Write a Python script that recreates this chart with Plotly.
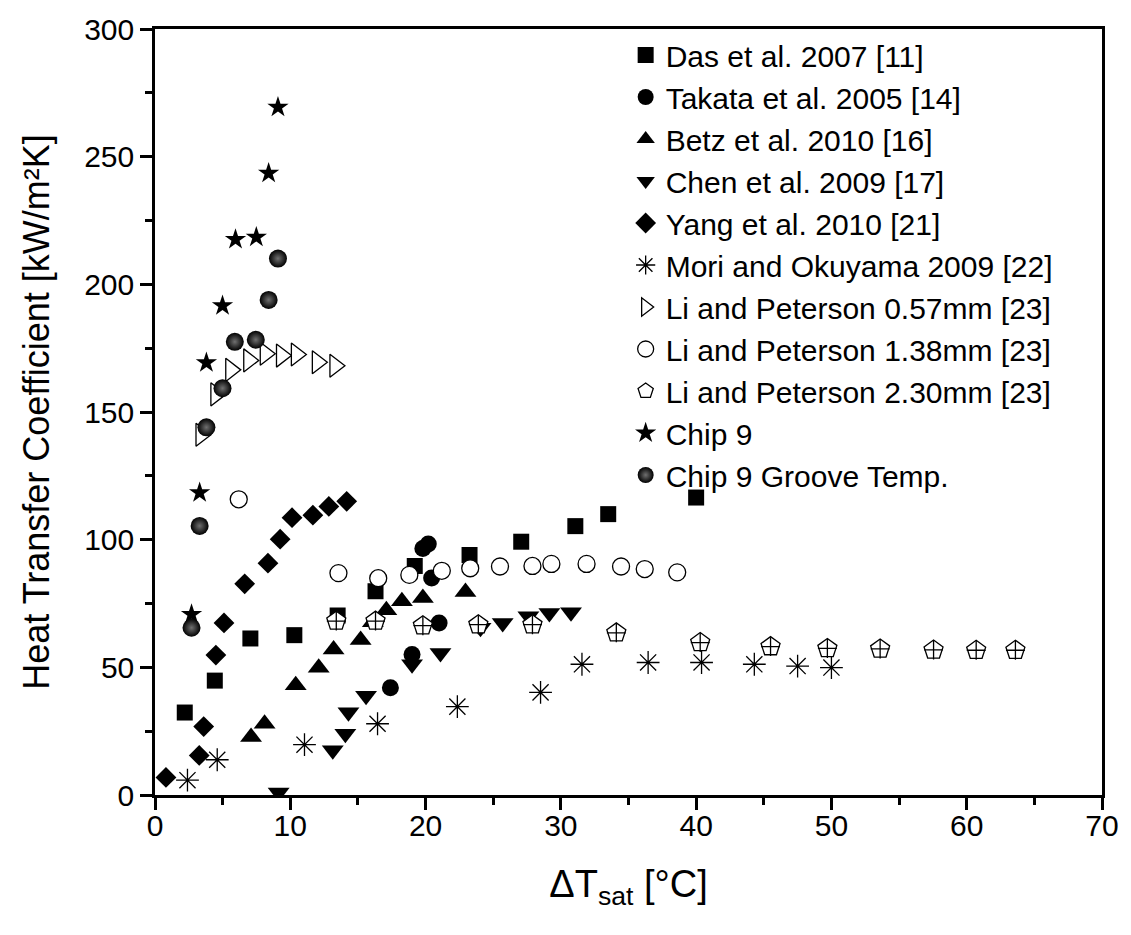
import plotly.graph_objects as go

das_x = [2.2, 4.42, 7.05, 10.3, 13.5, 16.3, 19.2, 23.25, 27.07, 31.07, 33.5, 40.0]
das_y = [32.3, 44.8, 61.3, 62.6, 70.3, 79.8, 89.7, 94.0, 99.2, 105.3, 110.0, 116.5]

takata_x = [17.4, 19.0, 21.0, 20.45, 19.8, 20.2]
takata_y = [42.0, 55.0, 67.4, 85.0, 96.5, 98.3]

betz_x = [7.1, 8.1, 10.4, 12.1, 13.2, 15.2, 16.1, 17.1, 18.25, 19.8, 22.95]
betz_y = [22.7, 27.9, 43.0, 49.8, 57.0, 60.7, 67.7, 72.4, 75.9, 77.2, 79.5]

chen_x = [9.14, 13.14, 14.07, 14.3, 15.6, 19.0, 21.1, 24.06, 25.7, 27.6, 29.15, 30.75]
chen_y = [1.0, 17.5, 24.0, 32.4, 38.9, 51.2, 55.6, 65.5, 67.4, 70.0, 71.3, 71.6]

yang_x = [0.81, 3.27, 3.6, 4.5, 5.1, 6.63, 8.35, 9.25, 10.13, 11.67, 12.85, 14.17]
yang_y = [6.9, 15.5, 26.8, 54.8, 67.4, 82.7, 90.8, 100.2, 108.6, 109.6, 113.0, 115.0]

mori_x = [2.4, 4.6, 11.05, 16.45, 22.35, 28.5, 31.56, 36.45, 40.4, 44.3, 47.5, 50.0]
mori_y = [5.8, 13.8, 19.7, 27.9, 34.6, 40.2, 51.2, 51.9, 51.9, 51.2, 50.5, 49.9]

li057_x = [3.4, 4.5, 5.6, 6.93, 8.15, 9.35, 10.45, 12.0, 13.3]
li057_y = [141.1, 156.9, 166.5, 170.2, 172.8, 172.1, 172.5, 169.5, 168.1]

li138_x = [6.19, 13.56, 16.5, 18.8, 21.2, 23.3, 25.5, 27.9, 29.3, 31.9, 34.45, 36.2, 38.6]
li138_y = [115.8, 86.9, 84.9, 86.2, 87.8, 88.8, 89.5, 89.7, 90.5, 90.5, 89.5, 88.5, 87.2]

li230_x = [13.4, 16.3, 19.8, 23.9, 27.9, 34.1, 40.3, 45.5, 49.7, 53.6, 57.55, 60.7, 63.6]
li230_y = [68.1, 68.1, 66.3, 66.7, 66.7, 63.5, 59.7, 58.1, 57.4, 57.2, 56.8, 56.7, 56.7]

chip_x = [2.7, 3.3, 3.8, 4.99, 5.95, 7.49, 8.4, 9.09]
chip_y = [70.7, 118.4, 169.3, 191.6, 217.6, 218.5, 243.5, 269.4]

groove_x = [2.7, 3.3, 3.8, 4.99, 5.9, 7.45, 8.4, 9.09]
groove_y = [65.5, 105.4, 144.0, 159.3, 177.5, 178.3, 193.9, 210.1]

names = ["Das et al. 2007 [11]", "Takata et al. 2005 [14]", "Betz et al. 2010 [16]",
         "Chen et al. 2009 [17]", "Yang et al. 2010 [21]", "Mori and Okuyama 2009 [22]",
         "Li and Peterson 0.57mm [23]", "Li and Peterson 1.38mm [23]",
         "Li and Peterson 2.30mm [23]", "Chip 9", "Chip 9 Groove Temp."]

fig = go.Figure()

fig.add_trace(go.Scatter(x=das_x, y=das_y, name=names[0], mode="markers",
                         marker=dict(symbol="square", size=16, color="black")))
fig.add_trace(go.Scatter(x=takata_x, y=takata_y, name=names[1], mode="markers",
                         marker=dict(symbol="circle", size=17, color="black")))
fig.add_trace(go.Scatter(x=betz_x, y=betz_y, name=names[2], mode="markers",
                         marker=dict(symbol="triangle-up", size=19, color="black")))
fig.add_trace(go.Scatter(x=chen_x, y=chen_y, name=names[3], mode="markers",
                         marker=dict(symbol="triangle-down", size=19, color="black")))
fig.add_trace(go.Scatter(x=yang_x, y=yang_y, name=names[4], mode="markers",
                         marker=dict(symbol="diamond", size=16, color="black")))
fig.add_trace(go.Scatter(x=mori_x, y=mori_y, name=names[5], mode="markers",
                         marker=dict(symbol="asterisk-open", size=19, color="black",
                                     line=dict(color="black", width=1.3))))
fig.add_trace(go.Scatter(x=li057_x, y=li057_y, name=names[6], mode="markers",
                         marker=dict(symbol="triangle-right", size=20, color="white",
                                     line=dict(color="black", width=1.3))))
fig.add_trace(go.Scatter(x=li138_x, y=li138_y, name=names[7], mode="markers",
                         marker=dict(symbol="circle", size=17, color="white",
                                     line=dict(color="black", width=1.3))))
fig.add_trace(go.Scatter(x=li230_x, y=li230_y, name=names[8], mode="markers",
                         legendgroup="li230",
                         marker=dict(symbol="pentagon", size=20, color="white",
                                     line=dict(color="black", width=1.3))))
fig.add_trace(go.Scatter(x=li230_x, y=li230_y, name=names[8], mode="markers",
                         legendgroup="li230", showlegend=False,
                         marker=dict(symbol="cross-thin-open", size=13.5, color="black",
                                     line=dict(color="black", width=1.3))))
fig.add_trace(go.Scatter(x=chip_x, y=chip_y, name=names[9], mode="markers",
                         marker=dict(symbol="star", size=16, color="black")))
fig.add_trace(go.Scatter(x=groove_x, y=groove_y, name=names[10], mode="markers",
                         marker=dict(symbol="circle", size=18, color="black",
                                     gradient=dict(type="radial", color="#707070"))))

font = "Arial, Liberation Sans, sans-serif"
axis_common = dict(showline=True, linecolor="black", linewidth=2.5, mirror=True,
                   ticks="outside", ticklen=12, tickwidth=2.5, tickcolor="black",
                   showgrid=False, zeroline=False,
                   tickfont=dict(family=font, size=30, color="black"))

fig.update_layout(
    width=1131, height=935,
    margin=dict(l=155, r=26, t=23, b=140),
    paper_bgcolor="white", plot_bgcolor="white",
    showlegend=True,
    legend=dict(x=0.497, y=1.0, xanchor="left", yanchor="top",
                bgcolor="rgba(0,0,0,0)", borderwidth=0, tracegroupgap=0,
                font=dict(family=font, size=30, color="black")),
    xaxis=dict(range=[0, 70], dtick=10, tick0=0, ticklabelstandoff=-10,
               minor=dict(dtick=5, ticks="outside", ticklen=7, tickwidth=2.5, tickcolor="black"),
               title=dict(text="ΔT<sub>sat</sub> [°C]", standoff=30,
                          font=dict(family=font, size=38, color="black")),
               **axis_common),
    yaxis=dict(range=[0, 300], dtick=50, tick0=0,
               minor=dict(dtick=25, ticks="outside", ticklen=7, tickwidth=2.5, tickcolor="black"),
               title=dict(text="Heat Transfer Coefficient [kW/m²K]", standoff=24,
                          font=dict(family=font, size=36, color="black")),
               **axis_common),
)

fig.write_html("out.html")
